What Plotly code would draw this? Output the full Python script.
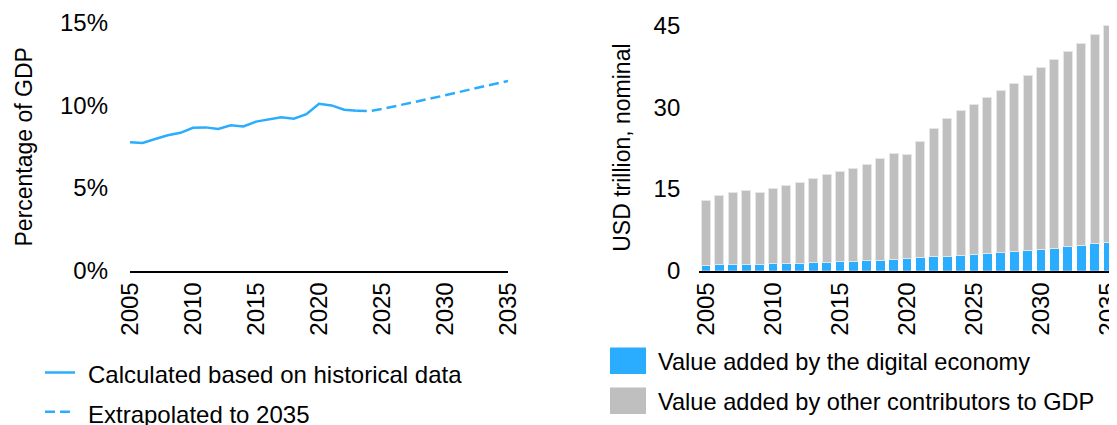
import plotly.graph_objects as go

# ---------------- data ----------------
hist_years = list(range(2005, 2024))
hist_pct = [7.77, 7.73, 7.97, 8.19, 8.34, 8.65, 8.67, 8.57, 8.80, 8.73,
            9.02, 9.14, 9.28, 9.20, 9.47, 10.10, 10.00, 9.74, 9.68]
proj_years = list(range(2023, 2036))
proj_pct = [9.68, 9.66, 9.78, 9.94, 10.10, 10.26, 10.44, 10.61, 10.79,
            10.96, 11.13, 11.31, 11.48]

bar_years = list(range(2005, 2036))
total_gdp = [12.98, 13.77, 14.46, 14.75, 14.46, 15.05, 15.64, 16.23, 16.92, 17.60,
             18.29, 18.78, 19.57, 20.65, 21.54, 21.44, 23.80, 26.06, 27.93, 29.41,
             30.49, 31.77, 33.05, 34.42, 35.90, 37.27, 38.75, 40.23, 41.80, 43.47, 45.14]
digital = [0.93, 1.05, 1.10, 1.10, 1.10, 1.29, 1.29, 1.35, 1.48, 1.48,
           1.65, 1.65, 1.84, 1.84, 2.03, 2.20, 2.39, 2.58, 2.58, 2.75,
           2.94, 3.13, 3.30, 3.49, 3.68, 3.87, 4.12, 4.42, 4.66, 4.97, 5.14]
other = [round(t - d, 2) for t, d in zip(total_gdp, digital)]

pct_ticks = [0, 5, 10, 15]
pct_labels = ["0%", "5%", "10%", "15%"]
usd_ticks = [0, 15, 30, 45]
year_ticks = [2005, 2010, 2015, 2020, 2025, 2030, 2035]

legend_left = ["Calculated based on historical data", "Extrapolated to 2035"]
legend_right = ["Value added by the digital economy",
                "Value added by other contributors to GDP"]

BLUE = "#2BADFF"
GRAY = "#BFBFBF"
FONT = "Liberation Sans"
W, H = 1117, 425
OFF = 8  # page body margin

def px(x):
    return (x - OFF) / W

def py(y):
    return 1 - (y - OFF) / H

fig = go.Figure()

fig.add_trace(go.Scatter(x=hist_years, y=hist_pct, mode="lines",
                         line=dict(color=BLUE, width=2.5),
                         xaxis="x", yaxis="y", showlegend=False))
fig.add_trace(go.Scatter(x=proj_years, y=proj_pct, mode="lines",
                         line=dict(color=BLUE, width=2.5, dash="10px,5px"),
                         xaxis="x", yaxis="y", showlegend=False))

fig.add_trace(go.Bar(x=bar_years, y=digital, marker=dict(color=BLUE, line=dict(width=0)),
                     xaxis="x2", yaxis="y2", showlegend=False))
fig.add_trace(go.Bar(x=bar_years, y=other,
                     marker=dict(color=GRAY, line=dict(color="#E6E6E6", width=1)),
                     xaxis="x2", yaxis="y2", showlegend=False))

tickfont = dict(family=FONT, size=24, color="#000000")

fig.update_layout(
    width=W, height=H,
    margin=dict(l=0, r=0, t=0, b=0, pad=0, autoexpand=False),
    paper_bgcolor="white", plot_bgcolor="white",
    barmode="stack", bargap=0.33,
    font=dict(family=FONT, size=24, color="#000000"),
    xaxis=dict(domain=[px(130), px(508)], range=[2005, 2035],
               tickvals=year_ticks, tickangle=-90, tickfont=tickfont,
               showgrid=False, zeroline=False, showline=True, automargin=False,
               linecolor="black", linewidth=2, ticks="", anchor="y",
               ticklabelstandoff=0),
    yaxis=dict(domain=[py(270.7), py(22.75)], range=[0, 15],
               tickvals=pct_ticks, ticktext=pct_labels, tickfont=tickfont,
               showgrid=False, zeroline=False, showline=False, ticks="",
               automargin=False, anchor="x", ticklabelstandoff=21),
    xaxis2=dict(domain=[px(699.3), px(1114.7)], range=[2004.5, 2035.5],
                tickvals=year_ticks, tickangle=-90, tickfont=tickfont,
                showgrid=False, zeroline=False, showline=True, automargin=False,
                linecolor="black", linewidth=2, ticks="", anchor="y2",
                ticklabelstandoff=0),
    yaxis2=dict(domain=[py(270.7), py(15.0)], range=[0, 47],
                tickvals=usd_ticks, tickfont=tickfont,
                showgrid=False, zeroline=False, showline=False, ticks="",
                automargin=False, anchor="x2", ticklabelstandoff=18),
)

# axis titles
fig.add_annotation(text="Percentage of GDP", textangle=-90, xref="paper", yref="paper",
                   x=px(23), y=py(147.5), xanchor="center", yanchor="middle",
                   showarrow=False, font=dict(family=FONT, size=23, color="black"))
fig.add_annotation(text="USD trillion, nominal", textangle=-90, xref="paper", yref="paper",
                   x=px(622.5), y=py(148.3), xanchor="center", yanchor="middle",
                   showarrow=False, font=dict(family=FONT, size=23, color="black"))

# left legend
fig.add_shape(type="line", xref="paper", yref="paper", x0=px(45), x1=px(75),
              y0=py(372.5), y1=py(372.5), line=dict(color=BLUE, width=2.5))
fig.add_shape(type="line", xref="paper", yref="paper", x0=px(45), x1=px(75),
              y0=py(411.7), y1=py(411.7), line=dict(color=BLUE, width=2.5, dash="10px,5px"))
for i, t in enumerate(legend_left):
    fig.add_annotation(text=t, xref="paper", yref="paper", x=px(86), y=py(374.5 + 40 * i),
                       xanchor="left", yanchor="middle", showarrow=False,
                       font=dict(family=FONT, size=24, color="black"))

# right legend
for i, (t, c) in enumerate(zip(legend_right, [BLUE, GRAY])):
    yc = 360.7 + 40 * i
    fig.add_shape(type="rect", xref="paper", yref="paper", x0=px(610), x1=px(646),
                  y0=py(yc - 13.3), y1=py(yc + 13.3), fillcolor=c, line=dict(width=0))
    fig.add_annotation(text=t, xref="paper", yref="paper", x=px(656), y=py(yc + 1),
                       xanchor="left", yanchor="middle", showarrow=False,
                       font=dict(family=FONT, size=23.6, color="black"))

fig.write_html("out.html")
